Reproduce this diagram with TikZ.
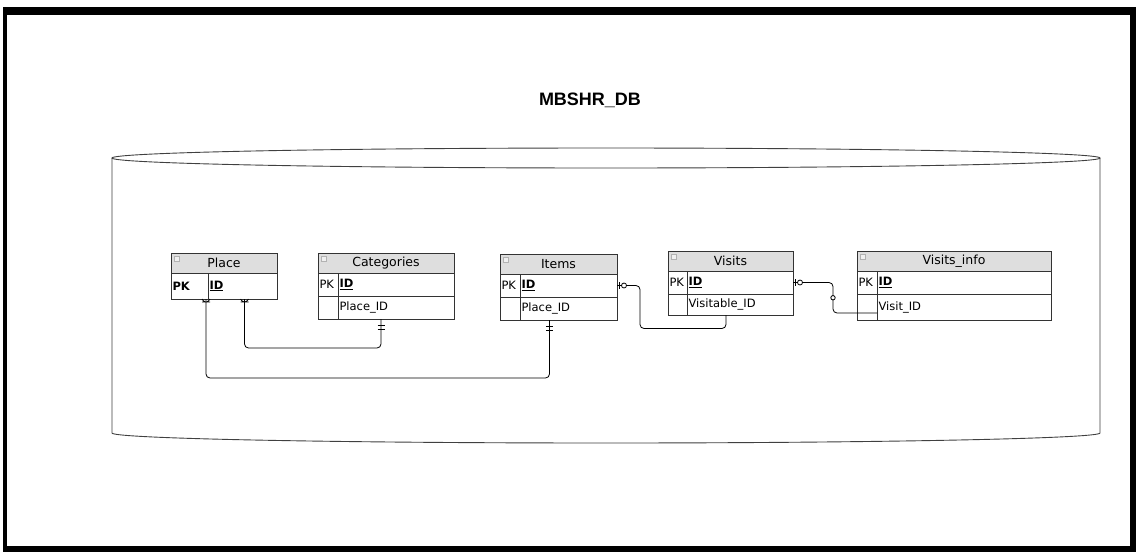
\documentclass[tikz,border=0pt]{standalone}
\usepackage{fontspec}
\setmainfont{DejaVu Sans}
\newfontfamily\titlefont{Liberation Sans}
\usetikzlibrary{arrows.meta, positioning, decorations.markings}

\begin{document}
\begin{tikzpicture}[
    x=1pt, y=-1pt,
    font=\fontsize{11.5}{13}\selectfont,
    tbl/.style = {draw=black!80, line width=0.9pt, outer sep=0pt, inner xsep=1.5pt, inner ysep=0pt},
    hdr/.style = {tbl, fill=black!13, align=center, minimum height=20pt, text width=#1, font=\fontsize{12.5}{13}\selectfont},
    keycell/.style = {tbl, align=left, minimum height=23pt, text width=#1},
    fieldcell/.style = {tbl, align=left, minimum height=23pt, text width=#1},
    rel/.style = {line width=0.8pt, rounded corners=4pt},
    tick/.style = {line width=0.8pt},
    % --- ER marks ---
    many/.style = {postaction={decorate, decoration={markings,
        mark=at position 0pt with {\draw[tick] (0pt,4pt) -- (5pt,0pt) -- (0pt,-4pt) (3pt,4pt) -- (3pt,-4pt);}}}},
    one/.style = {postaction={decorate, decoration={markings,
        mark=at position -10pt with {\draw[tick] (0pt,3.5pt) -- (0pt,-3.5pt);},
        mark=at position -6pt with {\draw[tick] (0pt,3.5pt) -- (0pt,-3.5pt);}}}},
    zeroone/.style = {postaction={decorate, decoration={markings,
        mark=at position 2pt with {\draw[tick] (0pt,3.5pt) -- (0pt,-3.5pt);},
        mark=at position 7pt with {\draw[tick, fill=white] (0pt,0pt) circle (2.5pt);}}}}
  ]

  \useasboundingbox (0,0) rectangle (1136,552);
  % --- frame ---
  \fill[black] (3,7) rectangle (1136,552);
  \fill[white] (7,15) rectangle (1130,546);

  % --- database cylinder ---
  \draw[black!75, line width=0.9pt, fill=white] (112,158) -- (112,433)
    arc[start angle=180, end angle=360, x radius=494pt, y radius=10pt] -- (1100,158);
  \draw[black!75, line width=0.9pt] (606,158) ellipse[x radius=494pt, y radius=10pt];

  \node[font=\titlefont\bfseries\fontsize{18}{20}\selectfont] (title) at (590,100) {MBSHR\_DB};

  % --- Place ---
  \node[hdr=103pt, anchor=north west] (place) at (171,253) {Place};
  \node[keycell=34pt, minimum height=26pt, below right=0pt of place.south west] (placepk) {\textbf{PK}};
  \node[fieldcell=66pt, minimum height=26pt, right=0pt of placepk] (placeid) {\underline{\textbf{ID}}};

  % --- Categories ---
  \node[hdr=133pt, anchor=north west] (cat) at (318,253) {Categories};
  \node[keycell=17pt, below right=0pt of cat.south west] (catpk) {PK};
  \node[fieldcell=113pt, right=0pt of catpk] (catid) {\underline{\textbf{ID}}};
  \node[keycell=17pt, below=0pt of catpk] (catkey) {};
  \node[fieldcell=113pt, right=0pt of catkey] (catfk) {Place\_ID};

  % --- Items ---
  \node[hdr=114pt, anchor=north west] (items) at (500,254) {Items};
  \node[keycell=17pt, below right=0pt of items.south west] (itemspk) {PK};
  \node[fieldcell=94pt, right=0pt of itemspk] (itemsid) {\underline{\textbf{ID}}};
  \node[keycell=17pt, below=0pt of itemspk] (itemskey) {};
  \node[fieldcell=94pt, right=0pt of itemskey] (itemsfk) {Place\_ID};

  % --- Visits ---
  \node[hdr=122pt, anchor=north west] (visits) at (668,251) {Visits};
  \node[keycell=16pt, below right=0pt of visits.south west] (visitspk) {PK};
  \node[fieldcell=103pt, right=0pt of visitspk] (visitsid) {\underline{\textbf{ID}}};
  \node[keycell=16pt, minimum height=21pt, below=0pt of visitspk] (visitskey) {};
  \node[fieldcell=103pt, minimum height=21pt, right=0pt of visitskey] (visitsfk) {Visitable\_ID};

  % --- Visits_info ---
  \node[hdr=191pt, anchor=north west] (info) at (857,251) {Visits\_info};
  \node[keycell=17pt, below right=0pt of info.south west] (infopk) {PK};
  \node[fieldcell=171pt, right=0pt of infopk] (infoid) {\underline{\textbf{ID}}};
  \node[keycell=17pt, minimum height=26pt, below=0pt of infopk] (infokey) {};
  \node[fieldcell=171pt, minimum height=26pt, right=0pt of infokey] (infofk) {Visit\_ID};

  % header icons
  \foreach \t in {place, cat, items, visits, info}
    \draw[black!30, line width=0.5pt, fill=black!6] ([shift={(3pt,-3pt)}]\t.north west) rectangle ++(5,5);

  % --- relations ---
  \draw[rel, many, one] ([xshift=-2pt]placepk.south east) -- ++(0,79) -| ([xshift=-19pt]itemsfk.south);
  \draw[rel, many, one] ([xshift=2pt]placeid.south) -- ++(0,49) -| ([xshift=-15pt]catfk.south);
  \draw[rel, zeroone] (itemsid.east) -- ++(23,0) -- ++(0,43) -| ([xshift=-14pt]visitsfk.south);
  \draw[rel, zeroone] (visitsid.east) -- ++(40,0) |- coordinate[pos=0.25] (infomark) ([yshift=-6pt]infofk.west);
  \draw[tick, fill=white] (infomark) circle (2.2pt);

\end{tikzpicture}
\end{document}
